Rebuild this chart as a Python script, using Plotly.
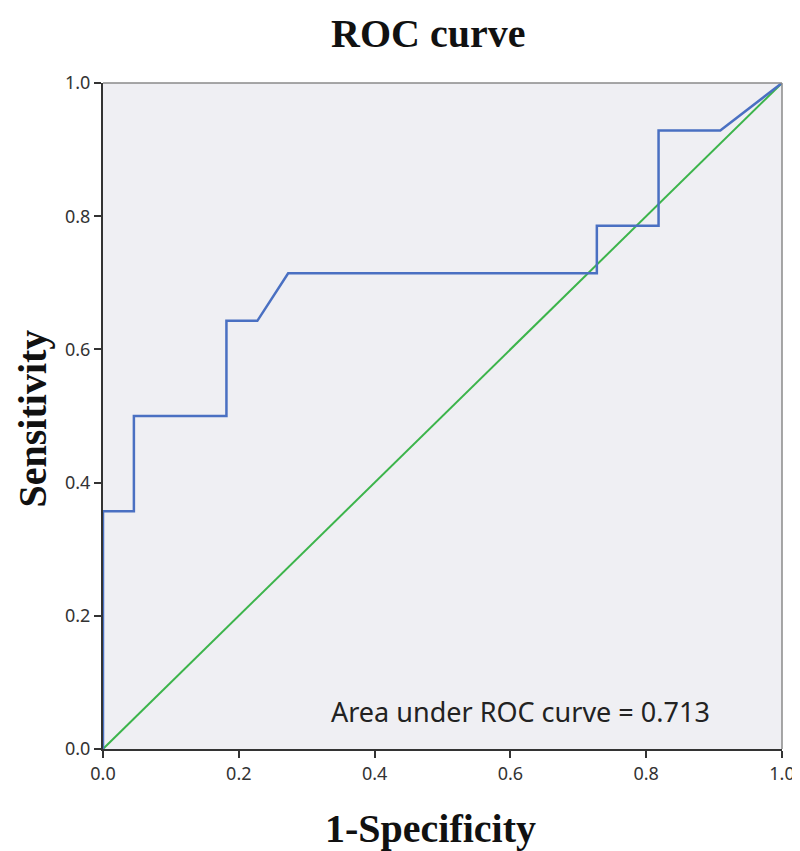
import plotly.graph_objects as go

# ROC curve points (1-Specificity, Sensitivity)
fpr = [0.0, 0.0, 0.0455, 0.0455, 0.1818, 0.1818, 0.2273, 0.2727, 0.7273, 0.7273, 0.8182, 0.8182, 0.9091, 1.0]
tpr = [0.0, 0.3571, 0.3571, 0.5, 0.5, 0.6429, 0.6429, 0.7143, 0.7143, 0.7857, 0.7857, 0.9286, 0.9286, 1.0]
ref_x = [0.0, 1.0]
ref_y = [0.0, 1.0]
tick_vals = [0.0, 0.2, 0.4, 0.6, 0.8, 1.0]
tick_text = ["0.0", "0.2", "0.4", "0.6", "0.8", "1.0"]
auc_label = "Area under ROC curve = 0.713"

fig = go.Figure()
fig.add_trace(go.Scatter(x=ref_x, y=ref_y, mode="lines",
                         line=dict(color="#3cb44b", width=2), showlegend=False, hoverinfo="skip"))
fig.add_trace(go.Scatter(x=fpr, y=tpr, mode="lines",
                         line=dict(color="#4a70c2", width=2.5), showlegend=False))

axis_common = dict(
    range=[0, 1], tickvals=tick_vals, ticktext=tick_text,
    showgrid=False, zeroline=False, showline=True, linecolor="#333333", linewidth=2,
    ticks="outside", ticklen=7, tickwidth=2, tickcolor="#333333",
    tickfont=dict(family="Noto Sans", size=18, color="#333333"),
)

serif_bold = dict(family="Liberation Serif", size=40, color="#111111")

fig.update_layout(
    width=800, height=851,
    margin=dict(l=95, r=26, t=75, b=110),
    paper_bgcolor="white", plot_bgcolor="#efeff3",
    xaxis=dict(axis_common),
    yaxis=dict(axis_common),
    shapes=[
        dict(type="line", xref="paper", yref="paper", x0=0, x1=1, y0=1, y1=1,
             line=dict(color="#8a8a8a", width=1.5)),
        dict(type="line", xref="paper", yref="paper", x0=1, x1=1, y0=0, y1=1,
             line=dict(color="#8a8a8a", width=1.5)),
    ],
    annotations=[
        dict(text="<b>ROC curve</b>", x=0.4786, y=1.111, xref="paper", yref="paper",
             xanchor="center", yanchor="top", showarrow=False, font=serif_bold),
        dict(text="<b>1-Specificity</b>", x=0.483, y=-0.1194, xref="paper", yref="paper",
             xanchor="center", yanchor="middle", showarrow=False, font=serif_bold),
        dict(text="<b>Sensitivity</b>", x=-0.1385, y=0.497, xref="paper", yref="paper",
             xanchor="left", yanchor="middle", showarrow=False, textangle=-90, font=serif_bold),
        dict(text=auc_label, x=0.897, y=0.0556, xref="paper", yref="paper",
             xanchor="right", yanchor="middle", showarrow=False,
             font=dict(family="Noto Sans", size=27, color="#222222")),
    ],
)

fig.write_html("out.html", config={"displayModeBar": False})
